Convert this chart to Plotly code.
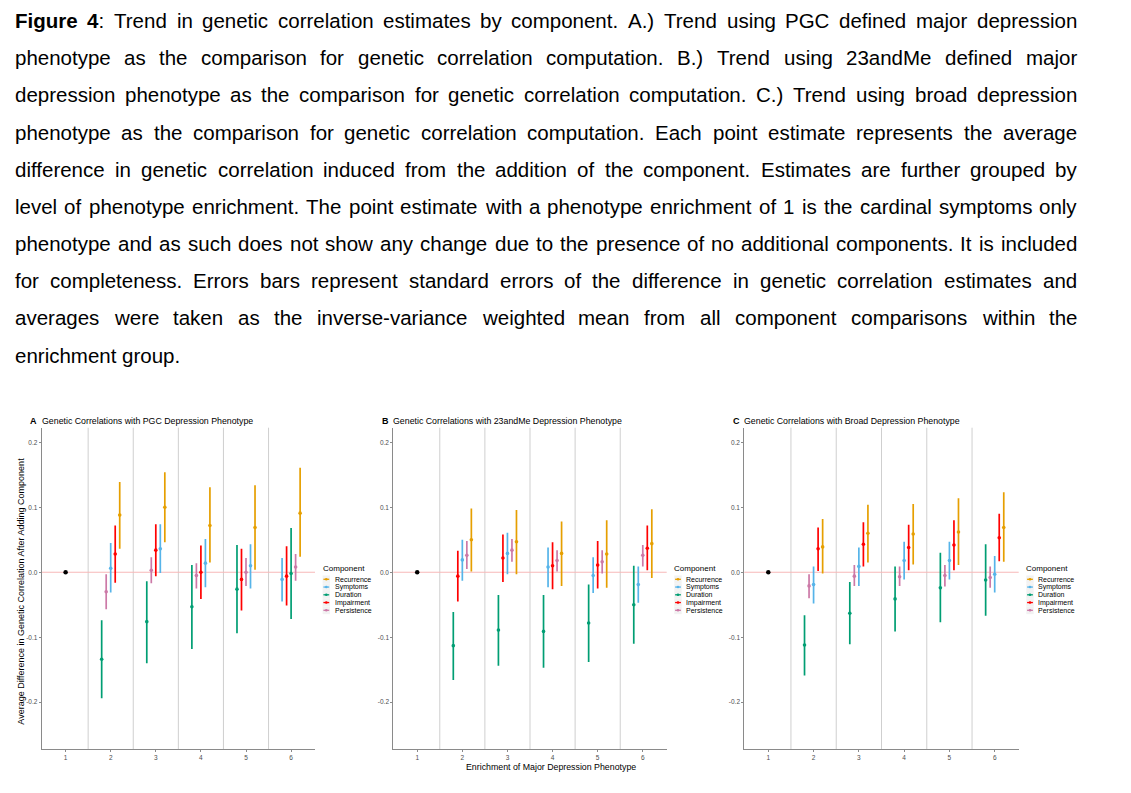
import re
import plotly.graph_objects as go

W, H = 1131, 793

# ---------------- data ----------------
LEVELS = [2, 3, 4, 5, 6]
COMPONENTS = ["Recurrence", "Symptoms", "Duration", "Impairment", "Persistence"]
COLORS = {"Recurrence": "#E69F00", "Symptoms": "#56B4E9", "Duration": "#009E73",
          "Impairment": "#FF0000", "Persistence": "#CC79A7"}
BASELINE_LEVEL = [1]
BASELINE_VALUE = [0.0]
X_TICKS = [1, 2, 3, 4, 5, 6]
X_TICK_LABELS = ["1", "2", "3", "4", "5", "6"]
Y_TICKS = [-0.2, -0.1, 0.0, 0.1, 0.2]
Y_TICK_LABELS = ["-0.2", "-0.1", "0.0", "0.1", "0.2"]
SEPARATORS = [1.5, 2.5, 3.5, 4.5, 5.5]

PGC_EST = {"Recurrence": [0.088, 0.100, 0.072, 0.069, 0.091],
           "Symptoms": [0.006, 0.036, 0.014, 0.010, -0.011],
           "Duration": [-0.134, -0.076, -0.053, -0.026, -0.002],
           "Impairment": [0.028, 0.034, 0.000, -0.011, -0.006],
           "Persistence": [-0.030, 0.003, -0.005, 0.000, 0.008]}
PGC_LO = {"Recurrence": [0.036, 0.046, 0.015, 0.004, 0.024],
          "Symptoms": [-0.031, -0.001, -0.023, -0.025, -0.045],
          "Duration": [-0.194, -0.140, -0.118, -0.094, -0.072],
          "Impairment": [-0.016, -0.006, -0.041, -0.059, -0.051],
          "Persistence": [-0.057, -0.017, -0.025, -0.021, -0.013]}
PGC_HI = {"Recurrence": [0.139, 0.154, 0.131, 0.134, 0.161],
          "Symptoms": [0.045, 0.074, 0.051, 0.043, 0.022],
          "Duration": [-0.074, -0.014, 0.011, 0.042, 0.068],
          "Impairment": [0.072, 0.074, 0.041, 0.036, 0.040],
          "Persistence": [-0.003, 0.023, 0.014, 0.022, 0.028]}

ME23_EST = {"Recurrence": [0.050, 0.047, 0.029, 0.028, 0.044],
            "Symptoms": [0.019, 0.029, 0.008, -0.005, -0.019],
            "Duration": [-0.113, -0.089, -0.091, -0.078, -0.050],
            "Impairment": [-0.006, 0.022, 0.010, 0.011, 0.037],
            "Persistence": [0.026, 0.034, 0.018, 0.016, 0.026]}
ME23_LO = {"Recurrence": [0.001, -0.003, -0.021, -0.024, -0.009],
           "Symptoms": [-0.013, -0.003, -0.023, -0.032, -0.047],
           "Duration": [-0.166, -0.144, -0.147, -0.138, -0.110],
           "Impairment": [-0.045, -0.015, -0.026, -0.025, 0.003],
           "Persistence": [0.005, 0.016, 0.001, -0.002, 0.009]}
ME23_HI = {"Recurrence": [0.098, 0.096, 0.078, 0.080, 0.097],
           "Symptoms": [0.050, 0.061, 0.038, 0.023, 0.009],
           "Duration": [-0.061, -0.035, -0.035, -0.019, 0.010],
           "Impairment": [0.033, 0.058, 0.046, 0.048, 0.072],
           "Persistence": [0.048, 0.051, 0.034, 0.034, 0.042]}

BROAD_EST = {"Recurrence": [0.039, 0.060, 0.059, 0.062, 0.069],
             "Symptoms": [-0.019, 0.009, 0.018, 0.018, -0.003],
             "Duration": [-0.112, -0.063, -0.041, -0.024, -0.012],
             "Impairment": [0.036, 0.043, 0.038, 0.042, 0.053],
             "Persistence": [-0.021, -0.006, -0.007, -0.005, -0.008]}
BROAD_LO = {"Recurrence": [-0.002, 0.015, 0.012, 0.011, 0.016],
            "Symptoms": [-0.048, -0.021, -0.011, -0.011, -0.031],
            "Duration": [-0.159, -0.111, -0.091, -0.077, -0.067],
            "Impairment": [0.002, 0.009, 0.003, 0.003, 0.017],
            "Persistence": [-0.040, -0.021, -0.021, -0.022, -0.024]}
BROAD_HI = {"Recurrence": [0.082, 0.104, 0.105, 0.114, 0.123],
            "Symptoms": [0.009, 0.038, 0.047, 0.047, 0.025],
            "Duration": [-0.066, -0.015, 0.009, 0.030, 0.043],
            "Impairment": [0.069, 0.077, 0.073, 0.080, 0.090],
            "Persistence": [-0.003, 0.011, 0.009, 0.011, 0.009]}

PANEL_LETTERS = ["A", "B", "C"]
PANEL_TITLES = ["Genetic Correlations with PGC Depression Phenotype",
                "Genetic Correlations with 23andMe Depression Phenotype",
                "Genetic Correlations with Broad Depression Phenotype"]
Y_TITLE = "Average Difference in Genetic Correlation After Adding Component"
X_TITLE = "Enrichment of Major Depression Phenotype"
LEGEND_TITLE = "Component"

CAPTION_LINES = [
    "<b>Figure</b> <b>4</b>: Trend in genetic correlation estimates by component. A.) Trend using PGC defined major depression",
    "phenotype as the comparison for genetic correlation computation. B.) Trend using 23andMe defined major",
    "depression phenotype as the comparison for genetic correlation computation. C.) Trend using broad depression",
    "phenotype as the comparison for genetic correlation computation. Each point estimate represents the average",
    "difference in genetic correlation induced from the addition of the component. Estimates are further grouped by",
    "level of phenotype enrichment. The point estimate with a phenotype enrichment of 1 is the cardinal symptoms only",
    "phenotype and as such does not show any change due to the presence of no additional components. It is included",
    "for completeness. Errors bars represent standard errors of the difference in genetic correlation estimates and",
    "averages were taken as the inverse-variance weighted mean from all component comparisons within the",
    "enrichment group.",
]

# ---------------- layout helpers ----------------
# the page body has an 8px default margin, so positions are shifted back by it
OFF = 8.0
PANEL_X = [(41.7, 315.0), (393.3, 666.7), (744.3, 1018.7)]
PANEL_Y = (427.7, 749.3)
X_RANGE = [0.47, 6.53]
Y_RANGE = [-0.2725, 0.2225]
FONT = "Liberation Sans"


def px(x):
    return (x - OFF) / W


def py(y):
    return 1 - (y - OFF) / H


fig = go.Figure()
annotations = []
shapes = []

datasets = [(PGC_EST, PGC_LO, PGC_HI), (ME23_EST, ME23_LO, ME23_HI), (BROAD_EST, BROAD_LO, BROAD_HI)]

for p, (est, lo, hi) in enumerate(datasets):
    xa = "x" if p == 0 else f"x{p+1}"
    ya = "y" if p == 0 else f"y{p+1}"
    # dodge order within each enrichment level follows the estimate rank
    offsets = {c: [] for c in COMPONENTS}
    for i in range(len(LEVELS)):
        order = sorted(COMPONENTS, key=lambda c: est[c][i])
        for r, c in enumerate(order):
            offsets[c].append((r - 2) * 0.1)
    for c in COMPONENTS:
        xs = [lv + off for lv, off in zip(LEVELS, offsets[c])]
        e = est[c]
        fig.add_trace(go.Scatter(
            x=xs, y=e, mode="markers", xaxis=xa, yaxis=ya, showlegend=False,
            marker=dict(color=COLORS[c], size=3.6, symbol="circle"),
            error_y=dict(type="data", symmetric=False,
                         array=[h - v for h, v in zip(hi[c], e)],
                         arrayminus=[v - l for v, l in zip(e, lo[c])],
                         width=0, thickness=1.7, color=COLORS[c]),
            name=c))
    fig.add_trace(go.Scatter(x=BASELINE_LEVEL, y=BASELINE_VALUE, mode="markers",
                             xaxis=xa, yaxis=ya, showlegend=False,
                             marker=dict(color="black", size=4.5)))

    x0, x1 = PANEL_X[p]
    axis_common = dict(showgrid=False, zeroline=False, showline=True, linecolor="#8a8a8a",
                       linewidth=1, ticks="outside", ticklen=2, tickwidth=0.8,
                       tickcolor="#8a8a8a",
                       tickfont=dict(family=FONT, size=6.5, color="#4D4D4D"))
    xkey = "xaxis" if p == 0 else f"xaxis{p+1}"
    ykey = "yaxis" if p == 0 else f"yaxis{p+1}"
    fig.update_layout({
        xkey: dict(domain=[px(x0), px(x1)], range=X_RANGE, anchor=ya,
                   tickvals=X_TICKS, ticktext=X_TICK_LABELS, **axis_common),
        ykey: dict(domain=[py(PANEL_Y[1]), py(PANEL_Y[0])], range=Y_RANGE, anchor=xa,
                   tickvals=Y_TICKS, ticktext=Y_TICK_LABELS, **axis_common),
    })

    # group separators
    for s in SEPARATORS:
        shapes.append(dict(type="line", xref=xa, yref=f"{ya} domain", x0=s, x1=s, y0=0, y1=1,
                           line=dict(color="#CFCFCF", width=1), layer="below"))
    # zero reference line
    shapes.append(dict(type="line", xref=f"{xa} domain", yref=ya, x0=0, x1=1, y0=0, y1=0,
                       line=dict(color="#F7B9B9", width=1.2), layer="below"))

    # panel title
    annotations.append(dict(x=px(x0 - 11.5), y=py(420.5), xref="paper", yref="paper",
                            text=f"<b>{PANEL_LETTERS[p]}</b>", showarrow=False,
                            xanchor="left", yanchor="middle", borderpad=0, borderwidth=0,
                            font=dict(family=FONT, size=9, color="#000")))
    annotations.append(dict(x=px(x0), y=py(420.5), xref="paper", yref="paper",
                            text=PANEL_TITLES[p], showarrow=False,
                            xanchor="left", yanchor="middle", borderpad=0, borderwidth=0,
                            font=dict(family=FONT, size=8.8, color="#000")))

    # manual legend
    lx = x1 + 7.6
    annotations.append(dict(x=px(lx), y=py(568), xref="paper", yref="paper",
                            text=LEGEND_TITLE, showarrow=False, xanchor="left",
                            yanchor="middle", borderpad=0, borderwidth=0,
                            font=dict(family=FONT, size=8, color="#000")))
    for k, c in enumerate(COMPONENTS):
        yc = 579.3 + 7.75 * k
        shapes.append(dict(type="rect", xref="paper", yref="paper",
                           x0=px(lx), x1=px(lx + 7.4), y0=py(yc - 3.85), y1=py(yc + 3.85),
                           fillcolor="#F2F2F2", line=dict(width=0)))
        shapes.append(dict(type="line", xref="paper", yref="paper",
                           x0=px(lx + 0.8), x1=px(lx + 6.6), y0=py(yc), y1=py(yc),
                           line=dict(color=COLORS[c], width=1.3)))
        shapes.append(dict(type="circle", xref="paper", yref="paper",
                           x0=px(lx + 2.4), x1=px(lx + 5.0), y0=py(yc - 1.3), y1=py(yc + 1.3),
                           fillcolor=COLORS[c], line=dict(width=0)))
        annotations.append(dict(x=px(lx + 12.0), y=py(yc), xref="paper", yref="paper",
                                text=c, showarrow=False, xanchor="left", yanchor="middle",
                                borderpad=0, borderwidth=0,
                                font=dict(family=FONT, size=7, color="#000")))

# axis titles
annotations.append(dict(x=px(21), y=py(591.7), xref="paper", yref="paper", text=Y_TITLE,
                        showarrow=False, textangle=-90, xanchor="center", yanchor="middle",
                        borderpad=0, borderwidth=0,
                        font=dict(family=FONT, size=9, color="#000")))
annotations.append(dict(x=px(551.3), y=py(766.5), xref="paper", yref="paper", text=X_TITLE,
                        showarrow=False, xanchor="center", yanchor="middle",
                        borderpad=0, borderwidth=0,
                        font=dict(family=FONT, size=8.8, color="#000")))

# ---------------- justified caption ----------------
REG = {' ': 278, '.': 278, ',': 278, ':': 278, '(': 333, ')': 333, '-': 333}
for ch in "0123456789":
    REG[ch] = 556
REG.update(dict(zip("ABCDEFGHIJKLMNOPQRSTUVWXYZ",
                    [667, 667, 722, 722, 667, 611, 778, 722, 278, 500, 667, 556, 833,
                     722, 778, 667, 778, 722, 667, 611, 722, 667, 944, 667, 667, 611])))
REG.update(dict(zip("abcdefghijklmnopqrstuvwxyz",
                    [556, 556, 500, 556, 556, 278, 556, 556, 222, 222, 500, 222, 833,
                     556, 556, 556, 556, 333, 500, 278, 556, 500, 722, 500, 500, 500])))
BOLD = {'F': 611, 'i': 278, 'g': 611, 'u': 611, 'r': 389, 'e': 556, '4': 556, ' ': 278}

CAP_FS = 20.5
CAP_XL, CAP_XR = 15.0, 1077.0
CAP_Y0, CAP_DY = 20.7, 37.15


def word_width(word):
    total, bold = 0, False
    for part in re.split(r"(<b>|</b>)", word):
        if part == "<b>":
            bold = True
        elif part == "</b>":
            bold = False
        else:
            for ch in part:
                total += (BOLD if bold else REG).get(ch, 556)
    return total / 1000 * CAP_FS


for i, line in enumerate(CAPTION_LINES):
    words = line.split(" ")
    widths = [word_width(w) for w in words]
    if i == len(CAPTION_LINES) - 1 or len(words) == 1:
        gap = 278 / 1000 * CAP_FS
    else:
        gap = (CAP_XR - CAP_XL - sum(widths)) / (len(words) - 1)
    x = CAP_XL
    yc = CAP_Y0 + CAP_DY * i
    for w, wd in zip(words, widths):
        annotations.append(dict(x=px(x), y=py(yc), xref="paper", yref="paper", text=w,
                                showarrow=False, xanchor="left", yanchor="middle",
                                borderpad=0, borderwidth=0,
                                font=dict(family=FONT, size=CAP_FS, color="#000")))
        x += wd + gap

fig.update_layout(width=W, height=H, margin=dict(l=0, r=0, t=0, b=0),
                  paper_bgcolor="white", plot_bgcolor="white",
                  annotations=annotations, shapes=shapes, showlegend=False)

fig.write_html("out.html")
